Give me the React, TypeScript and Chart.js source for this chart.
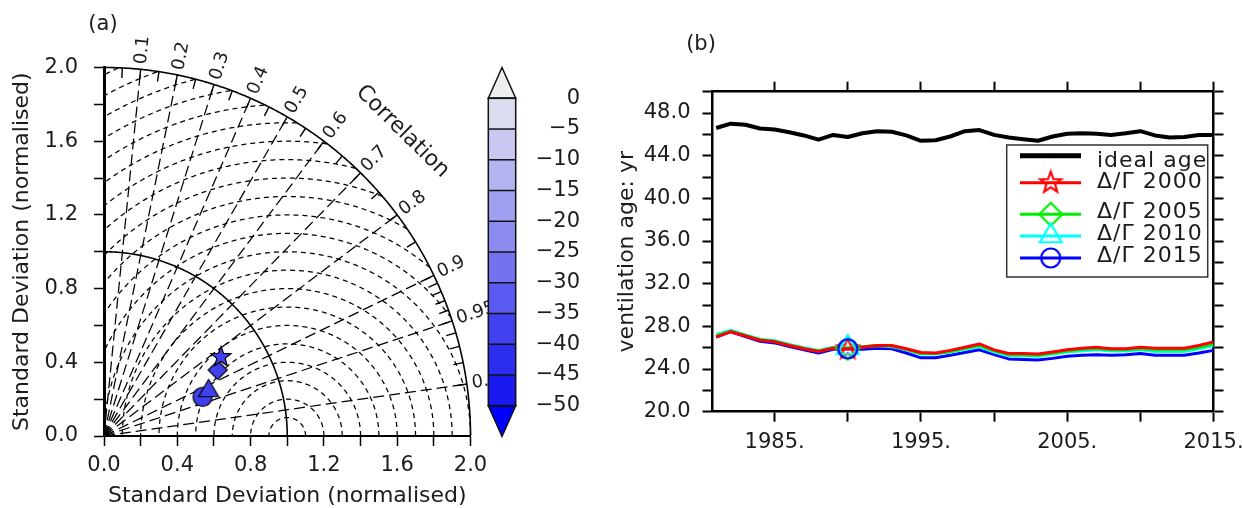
import React, { useEffect, useRef } from 'react';
import { Chart, registerables } from 'chart.js';

Chart.register(...registerables);

const FONT = '"DejaVu Sans", "Liberation Sans", sans-serif';
const INK = '#1c1c1c';

// ---------------- Panel (a): Taylor diagram ----------------
const taylorNames = ['Δ/Γ 2000', 'Δ/Γ 2005', 'Δ/Γ 2010', 'Δ/Γ 2015'];
const taylorStd = [0.769, 0.716, 0.621, 0.578];
const taylorCorr = [0.83, 0.866, 0.919, 0.93];
const taylorBias = [-38, -38, -38, -38];
const taylorShapes = ['star', 'diamond', 'triangle', 'circle'];
const taylorSizes = [10.5, 9.5, 11.5, 9.5];
const stdTicks = [0, 0.2, 0.4, 0.6, 0.8, 1.0, 1.2, 1.4, 1.6, 1.8, 2.0];
const corrMajor = [0.1, 0.2, 0.3, 0.4, 0.5, 0.6, 0.7, 0.8, 0.9, 0.95, 0.99];
const corrMajorText = ['0.1', '0.2', '0.3', '0.4', '0.5', '0.6', '0.7', '0.8', '0.9', '0.95', '0.99'];
const corrMinor = [0.05, 0.15, 0.25, 0.35, 0.45, 0.55, 0.65, 0.75, 0.85, 0.91, 0.92, 0.93, 0.94, 0.96, 0.97, 0.98];
const rmsLevels = [0.1, 0.2, 0.3, 0.4, 0.5, 0.6, 0.7, 0.8, 0.9, 1.0, 1.1, 1.2, 1.3, 1.4, 1.5, 1.6, 1.7, 1.8, 1.9, 2.0, 2.1, 2.2];
const stdArcs = [1.0, 2.0];
const stdMax = 2.0;

// ---------------- Colour bar ----------------
const cbLevels = [0, -5, -10, -15, -20, -25, -30, -35, -40, -45, -50];
const cbColors = ['#dcdcf0', '#c8c8f0', '#b4b4f0', '#a0a0f0', '#8c8cf0', '#7373f0', '#5a5af0', '#4141f0', '#2d2df0', '#1919f0'];
const cbOverColor = '#eeeeee';
const cbUnderColor = '#0000ff';
const cbOverApex = 5;
const cbUnderApex = -55;

// ---------------- Panel (b): ventilation age ----------------
const years = [1981, 1982, 1983, 1984, 1985, 1986, 1987, 1988, 1989, 1990, 1991, 1992, 1993, 1994, 1995, 1996, 1997, 1998, 1999, 2000, 2001, 2002, 2003, 2004, 2005, 2006, 2007, 2008, 2009, 2010, 2011, 2012, 2013, 2014, 2015];
const idealAge = [46.6, 47.0, 46.9, 46.55, 46.45, 46.2, 45.9, 45.5, 45.95, 45.75, 46.1, 46.3, 46.25, 45.9, 45.4, 45.45, 45.8, 46.3, 46.4, 45.95, 45.7, 45.55, 45.4, 45.8, 46.05, 46.1, 46.05, 45.95, 46.1, 46.3, 45.9, 45.7, 45.75, 45.95, 45.95];
const age2000 = [27.0, 27.5, 27.1, 26.7, 26.55, 26.2, 25.9, 25.65, 25.95, 25.9, 26.05, 26.2, 26.2, 25.9, 25.55, 25.5, 25.75, 26.05, 26.35, 25.8, 25.45, 25.45, 25.4, 25.6, 25.8, 25.95, 26.05, 25.9, 25.9, 26.05, 25.95, 25.95, 25.95, 26.2, 26.55];
const age2005 = [27.1, 27.55, 27.15, 26.75, 26.6, 26.25, 25.95, 25.7, 26.0, 25.95, 26.1, 26.2, 26.15, 25.85, 25.45, 25.45, 25.65, 25.95, 26.2, 25.7, 25.35, 25.35, 25.3, 25.5, 25.7, 25.85, 25.9, 25.8, 25.8, 25.9, 25.8, 25.8, 25.8, 26.05, 26.35];
const age2010 = [27.25, 27.65, 27.2, 26.8, 26.65, 26.3, 26.0, 25.75, 26.05, 26.0, 26.1, 26.2, 26.1, 25.8, 25.4, 25.4, 25.6, 25.85, 26.1, 25.6, 25.25, 25.25, 25.2, 25.4, 25.6, 25.7, 25.8, 25.7, 25.7, 25.8, 25.65, 25.65, 25.65, 25.9, 26.2];
const age2015 = [27.0, 27.5, 27.05, 26.6, 26.45, 26.1, 25.8, 25.5, 25.85, 25.9, 25.85, 25.95, 25.9, 25.5, 25.05, 25.05, 25.3, 25.55, 25.8, 25.35, 24.95, 24.9, 24.85, 25.0, 25.2, 25.3, 25.35, 25.3, 25.35, 25.45, 25.3, 25.3, 25.3, 25.5, 25.75];
const lineNames = ['ideal age', 'Δ/Γ 2000', 'Δ/Γ 2005', 'Δ/Γ 2010', 'Δ/Γ 2015'];
const lineColors = ['#000000', '#ff0000', '#00ee00', '#00ffff', '#0000ff'];
const lineShapes = ['none', 'star', 'diamond', 'triangle', 'circle'];
const lineMarkerSizes = [0, 11, 11.5, 12.5, 9.5];
const markerYear = 1990;
const yearTicks = [1985, 1990, 1995, 2000, 2005, 2010, 2015];
const yearLabelTicks = [1985, 1995, 2005, 2015];
const ageTicks = [20, 22, 24, 26, 28, 30, 32, 34, 36, 38, 40, 42, 44, 46, 48, 50];
const ageLabelTicks = [20, 24, 28, 32, 36, 40, 44, 48];
const yearMin = 1980.75;
const yearMax = 2015;
const ageMin = 20;
const ageMax = 50;

function makeMarker(kind: string, R: number, stroke: string, fill: string | null, lw: number) {
  const s = Math.ceil(2 * R + 2 * lw + 4);
  const c = document.createElement('canvas');
  c.width = s;
  c.height = s;
  const g = c.getContext('2d') as CanvasRenderingContext2D;
  g.translate(s / 2, s / 2);
  g.beginPath();
  if (kind === 'star') {
    for (let i = 0; i < 10; i++) {
      const a = -Math.PI / 2 + (i * Math.PI) / 5;
      const r = i % 2 ? R * 0.42 : R;
      if (i === 0) g.moveTo(r * Math.cos(a), r * Math.sin(a));
      else g.lineTo(r * Math.cos(a), r * Math.sin(a));
    }
    g.closePath();
  } else if (kind === 'diamond') {
    g.moveTo(0, -R);
    g.lineTo(R, 0);
    g.lineTo(0, R);
    g.lineTo(-R, 0);
    g.closePath();
  } else if (kind === 'triangle') {
    const h = R * Math.sin(Math.PI / 3);
    g.moveTo(0, -R);
    g.lineTo(h, R / 2);
    g.lineTo(-h, R / 2);
    g.closePath();
  } else {
    g.arc(0, 0, R, 0, Math.PI * 2);
  }
  if (fill) {
    g.fillStyle = fill;
    g.fill();
  }
  g.lineJoin = 'miter';
  g.lineWidth = lw;
  g.strokeStyle = stroke;
  g.stroke();
  return c;
}

function colorForValue(v: number) {
  if (v > cbLevels[0]) return cbOverColor;
  for (let i = 0; i < cbColors.length; i++) {
    if (v <= cbLevels[i] && v > cbLevels[i + 1]) return cbColors[i];
  }
  return cbUnderColor;
}

const tickFont = { family: FONT, size: 21 };
const titleFont = { family: FONT, size: 22 };

export default function App() {
  const taylorRef = useRef<HTMLCanvasElement>(null);
  const cbRef = useRef<HTMLCanvasElement>(null);
  const lineRef = useRef<HTMLCanvasElement>(null);

  useEffect(() => {
    document.body.style.margin = '0';
    const charts: Chart[] = [];

    // ---------- Taylor diagram ----------
    const taylorImgs = taylorShapes.map((k, i) => makeMarker(k, taylorSizes[i], '#000', colorForValue(taylorBias[i]), 1.2));
    const taylorGrid = {
      id: 'taylorGrid',
      beforeDatasetsDraw(chart: any) {
        const { ctx } = chart;
        const xs = chart.scales.x;
        const ys = chart.scales.y;
        const P = (a: number, b: number) => [xs.getPixelForValue(a), ys.getPixelForValue(b)];
        const pxPerUnit = xs.getPixelForValue(1) - xs.getPixelForValue(0);
        ctx.save();
        ctx.strokeStyle = '#000';
        // RMS difference arcs centred on the reference point (1, 0)
        ctx.lineWidth = 1.25;
        ctx.setLineDash([5, 4]);
        for (const r of rmsLevels) {
          ctx.beginPath();
          let pen = false;
          for (let i = 0; i <= 900; i++) {
            const t = (Math.PI * i) / 900;
            const dx = 1 + r * Math.cos(t);
            const dy = r * Math.sin(t);
            const inside = dx >= 0 && dx * dx + dy * dy <= stdMax * stdMax;
            if (inside) {
              const [px, py] = P(dx, dy);
              if (!pen) { ctx.moveTo(px, py); pen = true; } else ctx.lineTo(px, py);
            } else pen = false;
          }
          ctx.stroke();
        }
        // correlation rays
        ctx.setLineDash([11, 5]);
        for (const c of corrMajor) {
          const th = Math.acos(c);
          const [x0, y0] = P(0, 0);
          const [x1, y1] = P(stdMax * Math.cos(th), stdMax * Math.sin(th));
          ctx.beginPath();
          ctx.moveTo(x0, y0);
          ctx.lineTo(x1, y1);
          ctx.stroke();
        }
        ctx.setLineDash([]);
        // std-dev arcs
        ctx.lineWidth = 1.6;
        for (const r of stdArcs) {
          ctx.beginPath();
          for (let i = 0; i <= 400; i++) {
            const t = (Math.PI / 2) * (i / 400);
            const [px, py] = P(r * Math.cos(t), r * Math.sin(t));
            if (i === 0) ctx.moveTo(px, py); else ctx.lineTo(px, py);
          }
          ctx.stroke();
        }
        // ticks on outer arc
        ctx.lineWidth = 1.4;
        const inner = stdMax - 10 / pxPerUnit;
        for (const c of [...corrMajor, ...corrMinor]) {
          const th = Math.acos(c);
          const [xa, ya] = P(stdMax * Math.cos(th), stdMax * Math.sin(th));
          const [xb, yb] = P(inner * Math.cos(th), inner * Math.sin(th));
          ctx.beginPath();
          ctx.moveTo(xa, ya);
          ctx.lineTo(xb, yb);
          ctx.stroke();
        }
        // correlation labels
        ctx.fillStyle = INK;
        ctx.font = `18px ${FONT}`;
        ctx.textAlign = 'left';
        ctx.textBaseline = 'middle';
        const lr = stdMax + 5 / pxPerUnit;
        corrMajor.forEach((c, i) => {
          const th = Math.acos(c);
          const [px, py] = P(lr * Math.cos(th), lr * Math.sin(th));
          ctx.save();
          ctx.translate(px, py);
          ctx.rotate(-th);
          ctx.fillText(corrMajorText[i], 0, 0);
          ctx.restore();
        });
        // "Correlation" caption
        const cth = (45.4 * Math.PI) / 180;
        const [cx, cy] = P(2.32 * Math.cos(cth), 2.32 * Math.sin(cth));
        ctx.save();
        ctx.translate(cx, cy);
        ctx.rotate(Math.PI / 2 - cth);
        ctx.font = `22px ${FONT}`;
        ctx.textAlign = 'center';
        ctx.fillText('Correlation', 0, 0);
        ctx.restore();
        // panel letter
        ctx.font = `21px ${FONT}`;
        ctx.textAlign = 'center';
        ctx.fillText('(a)', 103, 25);
        ctx.restore();
      },
    };

    charts.push(
      new Chart(taylorRef.current as HTMLCanvasElement, {
        type: 'scatter',
        data: {
          datasets: taylorStd.map((s, i) => ({
            label: taylorNames[i],
            data: [{ x: s * taylorCorr[i], y: s * Math.sqrt(1 - taylorCorr[i] * taylorCorr[i]) }],
            pointStyle: taylorImgs[i] as any,
            pointRadius: 10,
            showLine: false,
          })),
        },
        options: {
          responsive: false,
          animation: false,
          layout: { padding: { top: 67.5, right: 29.5, left: 0, bottom: 0 } },
          plugins: { legend: { display: false }, tooltip: { enabled: false } },
          scales: {
            x: {
              type: 'linear',
              min: 0,
              max: stdMax,
              afterBuildTicks: (s: any) => { s.ticks = stdTicks.map((v) => ({ value: v })); },
              afterFit: (s: any) => { s.height = 72; s.paddingLeft = 0; s.paddingRight = 0; },
              ticks: {
                autoSkip: false,
                maxRotation: 0,
                padding: 6.5,
                color: INK,
                font: tickFont,
                callback: (v: any, i: number) => (i % 2 === 0 ? Number(v).toFixed(1) : ''),
              },
              grid: { drawOnChartArea: false, tickLength: 10, tickColor: '#000', tickWidth: 1.5 },
              border: { display: true, color: '#000', width: 2 },
              title: { display: true, text: 'Standard Deviation (normalised)', color: INK, font: titleFont, padding: { top: 0, bottom: -1 } },
            },
            y: {
              type: 'linear',
              min: 0,
              max: stdMax,
              afterBuildTicks: (s: any) => { s.ticks = stdTicks.map((v) => ({ value: v })); },
              afterFit: (s: any) => { s.width = 104; s.paddingTop = 0; s.paddingBottom = 0; },
              ticks: {
                autoSkip: false,
                padding: 16,
                color: INK,
                font: tickFont,
                callback: (v: any, i: number) => (i % 2 === 0 ? Number(v).toFixed(1) : ''),
              },
              grid: { drawOnChartArea: false, tickLength: 10, tickColor: '#000', tickWidth: 1.5 },
              border: { display: true, color: '#000', width: 3 },
              title: { display: true, text: 'Standard Deviation (normalised)', color: INK, font: titleFont, padding: { top: 9, bottom: 0 } },
            },
          },
        } as any,
        plugins: [taylorGrid],
      })
    );

    // ---------- Colour bar ----------
    const cbFrame = {
      id: 'cbFrame',
      afterDatasetsDraw(chart: any) {
        const { ctx, chartArea } = chart;
        const ys = chart.scales.y;
        const l = chartArea.left;
        const r = chartArea.right;
        const m = (l + r) / 2;
        ctx.save();
        ctx.strokeStyle = '#111';
        ctx.lineWidth = 1.5;
        const tri = (base: number, apex: number, col: string) => {
          ctx.beginPath();
          ctx.moveTo(l, ys.getPixelForValue(base));
          ctx.lineTo(r, ys.getPixelForValue(base));
          ctx.lineTo(m, ys.getPixelForValue(apex));
          ctx.closePath();
          ctx.fillStyle = col;
          ctx.fill();
          ctx.stroke();
        };
        tri(cbLevels[0], cbOverApex, cbOverColor);
        tri(cbLevels[cbLevels.length - 1], cbUnderApex, cbUnderColor);
        for (const v of cbLevels) {
          const y = ys.getPixelForValue(v);
          ctx.beginPath();
          ctx.moveTo(l, y);
          ctx.lineTo(r, y);
          ctx.stroke();
        }
        ctx.strokeRect(l, ys.getPixelForValue(cbLevels[0]), r - l, ys.getPixelForValue(cbLevels[cbLevels.length - 1]) - ys.getPixelForValue(cbLevels[0]));
        ctx.restore();
      },
    };
    charts.push(
      new Chart(cbRef.current as HTMLCanvasElement, {
        type: 'bar',
        data: {
          labels: ['bias'],
          datasets: cbColors.map((c, i) => ({
            label: `${cbLevels[i]}`,
            data: [[cbLevels[i + 1], cbLevels[i]]],
            backgroundColor: c,
            borderWidth: 0,
            barPercentage: 1,
            categoryPercentage: 1,
            grouped: false,
          })),
        },
        options: {
          responsive: false,
          animation: false,
          layout: { padding: { left: 18.3, top: 98.3, bottom: 102.3, right: 0 } },
          plugins: { legend: { display: false }, tooltip: { enabled: false } },
          scales: {
            x: { display: false },
            y: {
              position: 'right',
              min: cbLevels[cbLevels.length - 1],
              max: cbLevels[0],
              afterBuildTicks: (s: any) => { s.ticks = cbLevels.map((v) => ({ value: v })); },
              afterFit: (s: any) => { s.width = 64.3; s.paddingTop = 0; s.paddingBottom = 0; },
              ticks: {
                crossAlign: 'far',
                padding: 3.5,
                color: INK,
                font: tickFont,
                callback: (v: any) => (Number(v) === 0 ? '0' : '\u2212' + Math.abs(Number(v))),
              },
              grid: { display: false, drawTicks: false },
              border: { display: false },
            },
          },
        } as any,
        plugins: [cbFrame],
      })
    );

    // ---------- Ventilation age lines ----------
    const series = [idealAge, age2000, age2005, age2010, age2015];
    const lineImgs = lineShapes.map((k, i) => (k === 'none' ? null : makeMarker(k, lineMarkerSizes[i], lineColors[i], null, 2.2)));
    const legendPlugin = {
      id: 'boxLegend',
      afterDraw(chart: any) {
        const { ctx } = chart;
        ctx.save();
        ctx.fillStyle = '#fff';
        ctx.fillRect(446.7, 145, 201, 132);
        ctx.strokeStyle = '#333';
        ctx.lineWidth = 1.5;
        ctx.strokeRect(446.7, 145, 201, 132);
        const lineY = [155.7, 182.7, 214.3, 236, 258];
        const textY = [166.5, 188.3, 218.3, 240, 262];
        ctx.font = `22px ${FONT}`;
        (ctx as any).letterSpacing = '1px';
        ctx.textAlign = 'left';
        ctx.textBaseline = 'alphabetic';
        lineNames.forEach((name, i) => {
          ctx.strokeStyle = lineColors[i];
          ctx.lineWidth = i === 0 ? 5 : 3;
          ctx.beginPath();
          ctx.moveTo(460, lineY[i]);
          ctx.lineTo(521, lineY[i]);
          ctx.stroke();
          const img = lineImgs[i];
          if (img) ctx.drawImage(img, 490.7 - img.width / 2, lineY[i] - img.height / 2);
          ctx.fillStyle = INK;
          ctx.fillText(name, 537, textY[i]);
        });
        (ctx as any).letterSpacing = '0px';
        ctx.font = `21px ${FONT}`;
        ctx.textAlign = 'center';
        ctx.textBaseline = 'middle';
        ctx.fillText('(b)', 141, 45);
        ctx.restore();
      },
    };
    const ageTickOpts = (labels: boolean, pos: string) => ({
      type: 'linear',
      position: pos,
      min: ageMin,
      max: ageMax,
      afterBuildTicks: (s: any) => { s.ticks = ageTicks.map((v) => ({ value: v })); },
      afterFit: (s: any) => { s.width = pos === 'left' ? 152.5 : 12; s.paddingTop = 0; s.paddingBottom = 0; },
      ticks: {
        display: labels,
        autoSkip: false,
        padding: 12,
        color: INK,
        font: tickFont,
        callback: (v: any) => (ageLabelTicks.includes(Number(v)) ? Number(v).toFixed(1) : ''),
      },
      grid: { drawOnChartArea: false, tickLength: 10, tickColor: '#000', tickWidth: 2 },
      border: { display: true, color: '#000', width: 2.5 },
      title: labels
        ? { display: true, text: 'ventilation age: yr', color: INK, font: titleFont, padding: { top: 54, bottom: 0 } }
        : { display: false },
    });
    const yearTickOpts = (labels: boolean, pos: string) => ({
      type: 'linear',
      position: pos,
      min: yearMin,
      max: yearMax,
      afterBuildTicks: (s: any) => { s.ticks = yearTicks.map((v) => ({ value: v })); },
      afterFit: (s: any) => { s.height = pos === 'bottom' ? 96.3 : 12; s.paddingLeft = 0; s.paddingRight = 0; },
      ticks: {
        display: labels,
        autoSkip: false,
        maxRotation: 0,
        padding: 8.5,
        color: INK,
        font: tickFont,
        callback: (v: any) => (yearLabelTicks.includes(Number(v)) ? `${v}.` : ''),
      },
      grid: { drawOnChartArea: false, tickLength: 10, tickColor: '#000', tickWidth: 2 },
      border: { display: true, color: '#000', width: 2.5 },
    });

    const markerIndex = years.indexOf(markerYear);
    const lineDatasets: any[] = series.map((vals, i) => ({
      label: lineNames[i],
      data: years.map((yr, j) => ({ x: yr, y: vals[j] })),
      borderColor: lineColors[i],
      backgroundColor: 'transparent',
      borderWidth: i === 0 ? 4 : 3,
      borderJoinStyle: 'round',
      tension: 0,
      fill: false,
      pointRadius: 0,
      order: i,
    }));
    series.forEach((vals, i) => {
      const img = lineImgs[i];
      if (!img) return;
      lineDatasets.push({
        label: lineNames[i] + ' marker',
        data: [{ x: years[markerIndex], y: vals[markerIndex] }],
        showLine: false,
        pointStyle: img,
        pointRadius: 10,
        order: -i,
      });
    });

    charts.push(
      new Chart(lineRef.current as HTMLCanvasElement, {
        type: 'line',
        data: { datasets: lineDatasets },
        options: {
          responsive: false,
          animation: false,
          layout: { padding: { top: 79.7, right: 16.5, left: 0, bottom: 0 } },
          plugins: { legend: { display: false }, tooltip: { enabled: false } },
          scales: {
            x: yearTickOpts(true, 'bottom'),
            xTop: yearTickOpts(false, 'top'),
            y: ageTickOpts(true, 'left'),
            yRight: ageTickOpts(false, 'right'),
          },
        } as any,
        plugins: [legendPlugin],
      })
    );

    return () => charts.forEach((c) => c.destroy());
  }, []);

  return (
    <div style={{ position: 'absolute', left: 0, top: 0, width: 1242, height: 508, background: '#fff' }}>
      <canvas ref={taylorRef} width={500} height={508} style={{ position: 'absolute', left: 0, top: 0 }} />
      <canvas ref={lineRef} width={682} height={508} style={{ position: 'absolute', left: 560, top: 0 }} />
      <canvas ref={cbRef} width={110} height={508} style={{ position: 'absolute', left: 470, top: 0 }} />
    </div>
  );
}
